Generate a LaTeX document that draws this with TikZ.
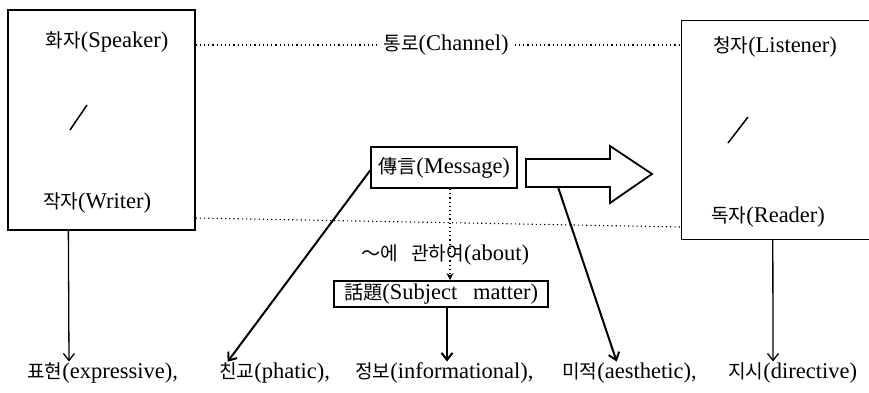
\documentclass[tikz,border=0pt]{standalone}
\usepackage{fontspec}
\setmainfont{Liberation Serif}
\newfontfamily\krfont{Noto Sans CJK KR}[Scale=0.85]
\newcommand{\kor}[1]{{\krfont #1}}
\usetikzlibrary{arrows.meta}
\begin{document}
\begin{tikzpicture}[x=1pt,y=-1pt,
  font=\fontsize{22.5}{26}\selectfont,
  boxline/.style={line width=1.3pt},
  bigbox/.style={draw, boxline, inner sep=0pt},
  msgbox/.style={draw, line width=1.8pt, inner sep=0pt},
  lbl/.style={inner sep=0pt},
  word/.style={anchor=west, inner sep=0pt},
  dotline/.style={line width=1.1pt, dash pattern=on 1.2pt off 3pt},
  arrthin/.style={line width=1.3pt, -{Straight Barb[length=7pt,width=11pt]}, shorten >=1pt},
  arrthick/.style={line width=2pt, -{Straight Barb[length=7pt,width=11pt]}, shorten >=1pt},
  slash/.style={line width=1.5pt}
]
\useasboundingbox (0,0) rectangle (869,393);
\fill[white] (0,0) rectangle (869,393);

% left box
\node[bigbox, minimum width=187pt, minimum height=220pt] (spk) at (101.5,120) {};
\node[lbl] (speaker) at (107,42) {\kor{화자}(Speaker)};
\node[lbl] (writer) at (97,203) {\kor{작자}(Writer)};
\draw[slash] (70,130) -- (87,105);

% right box (open at the right edge)
\node[inner sep=0pt, minimum width=187pt, minimum height=218pt] (rbox) at (775.5,130) {};
\draw[boxline] (rbox.north east) -- (rbox.north west) -- (rbox.south west) -- (rbox.south east);
\node[lbl] (listener) at (775,47) {\kor{청자}(Listener)};
\node[lbl] (reader) at (768,217) {\kor{독자}(Reader)};
\draw[slash] (728,143) -- (748,117);

% channel
\node[lbl] (chan) at (446,45) {\kor{통로}(Channel)};
\draw[dotline] (spk.east |- chan.west) -- ([xshift=-6pt]chan.west);
\draw[dotline] ([xshift=6pt]chan.east) -- (chan.east -| rbox.west);
\draw[dotline] ([yshift=-98pt]spk.east) -- ([yshift=-97pt]rbox.west);

% message
\node[msgbox, minimum width=146pt, minimum height=41pt] (msg) at (444,167.5) {\kor{傳言}(Message)};

% big arrow
\draw[line width=1.8pt, line join=miter] (526,159) -- (610,159) -- (610,146) -- (652,174) -- (610,203) -- (610,187) -- (526,187) -- cycle;
\coordinate (afoot) at (558,187);

% about + subject
\node[lbl] (about) at (445,255) {\kor{～에}\hspace{0.6em}\kor{관하여}(about)};
\node[msgbox, minimum width=214pt, minimum height=26pt] (subj) at (441,294) {\kor{話題}(Subject\hspace{0.7em}matter)};
\draw[dotline, -{Stealth[length=7pt,width=7pt]}] ([xshift=6pt]msg.south) -- ([xshift=9pt]subj.north);

% bottom functions
\node[word] (w1) at (27,373) {\kor{표현}(expressive),};
\node[word] (w2) at (219,373) {\kor{친교}(phatic),};
\node[word] (w3) at (355,373) {\kor{정보}(informational),};
\node[word] (w4) at (562,373) {\kor{미적}(aesthetic),};
\node[word] (w5) at (728,373) {\kor{지시}(directive)};

\draw[arrthin] ([xshift=61pt]spk.south west) -- ([xshift=42pt]w1.north west);
\draw[arrthick] ([yshift=-3pt]msg.west) -- ([xshift=8pt]w2.north west);
\draw[arrthick] ([xshift=6pt]subj.south) -- ([xshift=92pt]w3.north west);
\draw[arrthick] (afoot) -- ([xshift=55pt]w4.north west);
\draw[arrthin] ([xshift=91pt]rbox.south west) -- ([xshift=45pt]w5.north west);
\end{tikzpicture}
\end{document}
